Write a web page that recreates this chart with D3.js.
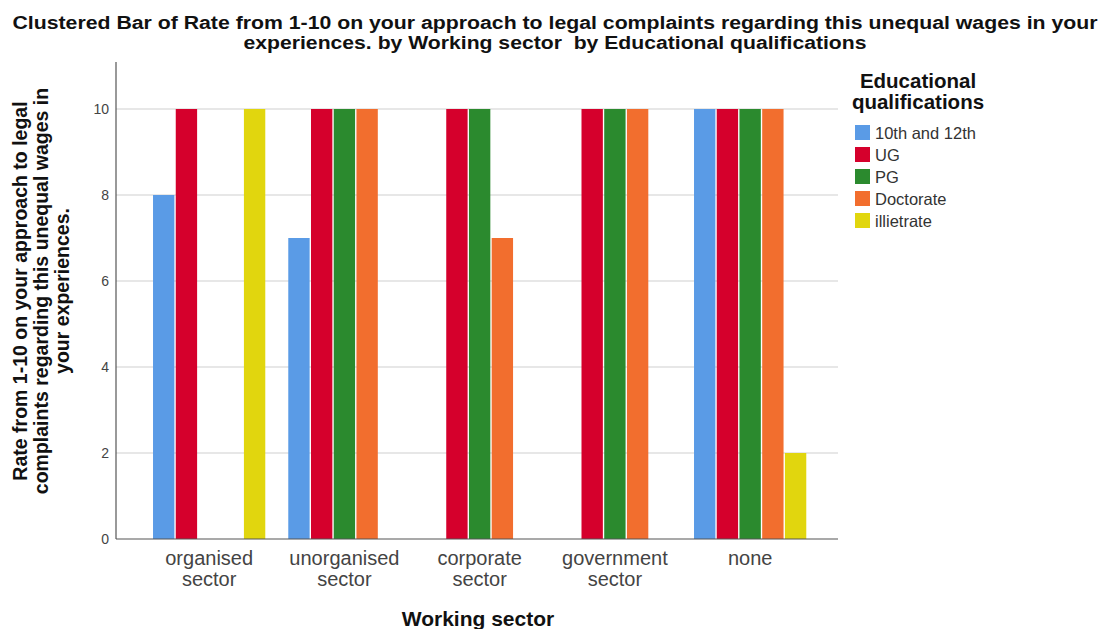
<!DOCTYPE html>
<html><head><meta charset="utf-8">
<script src="https://cdn.jsdelivr.net/npm/d3@7"></script>
<style>body{margin:0;background:#fff;} svg{display:block;font-family:"Liberation Sans",Arial,sans-serif;}</style>
</head><body>
<svg id="chart" width="1102" height="629"></svg>
<script>
const sectors = ["organised sector","unorganised sector","corporate sector","government sector","none"];
const sectorLines = [["organised","sector"],["unorganised","sector"],["corporate","sector"],["government","sector"],["none"]];
const quals = ["10th and 12th","UG","PG","Doctorate","illietrate"];
const colors = ["#5a9be6","#d5002c","#2b8a2e","#f26e2e","#e1d60e"];
// values per qualification, aligned to sectors (null = no bar)
const v10th = [8, 7, null, null, 10];
const vUG = [10, 10, 10, 10, 10];
const vPG = [null, 10, 10, 10, 10];
const vDoct = [null, 10, 7, 10, 10];
const vIll = [10, null, null, null, 2];
const yTicks = [0,2,4,6,8,10];
const series = [v10th, vUG, vPG, vDoct, vIll];

const svg = d3.select("#chart");
const frame = {left:116, right:838, top:62, bottom:539};

const y = d3.scaleLinear().domain([0, 11.1]).range([539, 539 - 11.1*43]);
const x0 = d3.scaleBand().domain(sectors).range([139.5, 819.8]).paddingInner(0.17).paddingOuter(0.1);
const x1 = d3.scaleBand().domain(quals).range([0, x0.bandwidth()]).paddingInner(0.06).paddingOuter(0);
const color = d3.scaleOrdinal().domain(quals).range(colors);

// gridlines
svg.append("g").selectAll("line").data(yTicks.filter(d=>d>0)).join("line")
  .attr("x1", frame.left).attr("x2", frame.right)
  .attr("y1", d=>y(d)).attr("y2", d=>y(d))
  .attr("stroke", "#cfcfcf").attr("stroke-width", 1.2);

// bars
const data = [];
sectors.forEach((s,i)=>quals.forEach((q,j)=>{ if(series[j][i]!=null) data.push({s,q,v:series[j][i]}); }));
svg.append("g").selectAll("rect").data(data).join("rect")
  .attr("x", d=>x0(d.s)+x1(d.q)).attr("width", x1.bandwidth())
  .attr("y", d=>y(d.v)).attr("height", d=>y(0)-y(d.v))
  .attr("fill", d=>color(d.q));

// y axis
const yAxis = svg.append("g").attr("transform", `translate(${frame.left},0)`)
  .call(d3.axisLeft(y).tickValues(yTicks).tickSize(0).tickPadding(7));
yAxis.select(".domain").remove();
yAxis.selectAll("text").attr("font-size", 14).attr("fill", "#444").attr("font-family","\"Liberation Sans\",Arial,sans-serif");

// frame lines
svg.append("line").attr("x1",frame.left).attr("x2",frame.left).attr("y1",frame.top).attr("y2",frame.bottom).attr("stroke","#555").attr("stroke-width",1.2);
svg.append("line").attr("x1",frame.left).attr("x2",frame.right).attr("y1",frame.bottom).attr("y2",frame.bottom).attr("stroke","#555").attr("stroke-width",1.2);

// x axis labels
const xAxis = svg.append("g").attr("transform", `translate(0,${frame.bottom})`)
  .call(d3.axisBottom(x0).tickSize(0).tickPadding(0));
xAxis.select(".domain").remove();
xAxis.selectAll(".tick text").each(function(d,i){
  const t = d3.select(this); t.text(null).attr("y", 0).attr("dy", null)
    .attr("font-size", 20).attr("fill", "#444").attr("font-family","\"Liberation Sans\",Arial,sans-serif");
  sectorLines[i].forEach((ln,k)=>t.append("tspan").attr("x",0).attr("y", 26 + k*21).text(ln));
});

// title
const title = ["Clustered Bar of Rate from 1-10 on your approach to legal complaints regarding this unequal wages in your",
               "experiences. by Working sector  by Educational qualifications"];
const tw = [1085, 623];
title.forEach((t,i)=>svg.append("text").attr("x", 555).attr("y", 29 + i*20).attr("text-anchor","middle")
  .attr("font-size", 18).attr("font-weight","bold").attr("fill","#111")
  .attr("textLength", tw[i]).attr("lengthAdjust","spacingAndGlyphs").style("white-space","pre").text(t));

// y title
const yt = ["Rate from 1-10 on your approach to legal","complaints regarding this unequal wages in","your experiences."];
const ytg = svg.append("g").attr("transform","translate(0,291) rotate(-90)");
yt.forEach((t,i)=>ytg.append("text").attr("x",0).attr("y", 27 + i*21).attr("text-anchor","middle")
  .attr("font-size", 19.5).attr("font-weight","bold").attr("fill","#111").text(t));

// x title
svg.append("text").attr("x", 478).attr("y", 626).attr("text-anchor","middle")
  .attr("font-size", 21).attr("font-weight","bold").attr("fill","#111").text("Working sector");

// legend
const lg = svg.append("g");
["Educational","qualifications"].forEach((t,i)=>lg.append("text").attr("x",918).attr("y", 88 + i*21).attr("text-anchor","middle")
  .attr("font-size", 20.5).attr("font-weight","bold").attr("fill","#111").text(t));
const items = lg.selectAll("g.item").data(quals).join("g").attr("class","item")
  .attr("transform",(d,i)=>`translate(855,${125 + i*22})`);
items.append("rect").attr("width",15).attr("height",15).attr("fill", d=>color(d));
items.append("text").attr("x",20).attr("y",14).attr("font-size",16.5).attr("fill","#333").text(d=>d);
</script>
</body></html>
